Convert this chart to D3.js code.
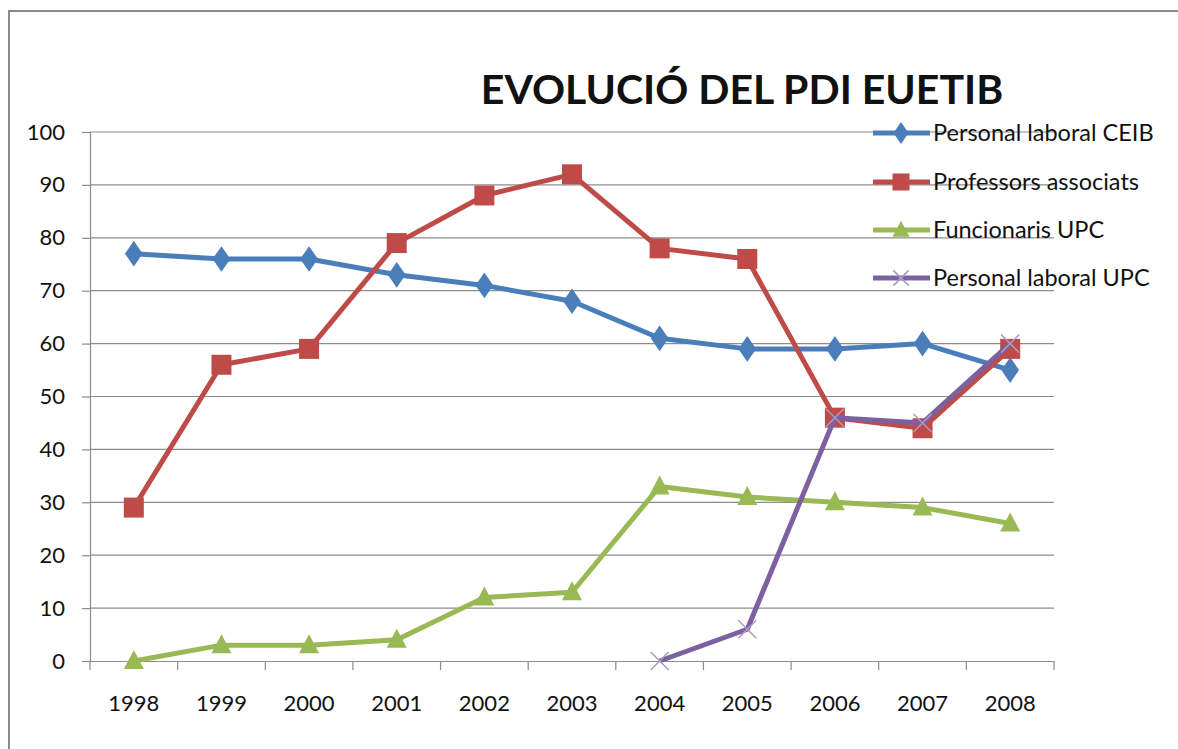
<!DOCTYPE html>
<html>
<head>
<meta charset="utf-8">
<script src="https://cdnjs.cloudflare.com/ajax/libs/d3/7.8.5/d3.min.js"></script>
<style>
  body { margin: 0; background: #fff; }
  svg { display: block; }
  text { font-family: Lato, "Open Sans", sans-serif; fill: #111; }
</style>
</head>
<body>
<svg id="chart" width="1178" height="749"></svg>
<script>
var svg = d3.select("#chart");

const years = ["1998", "1999", "2000", "2001", "2002", "2003", "2004", "2005", "2006", "2007", "2008"];
const laboralCeib = [77, 76, 76, 73, 71, 68, 61, 59, 59, 60, 55];
const professorsAssociats = [29, 56, 59, 79, 88, 92, 78, 76, 46, 44, 59];
const funcionarisUpc = [0, 3, 3, 4, 12, 13, 33, 31, 30, 29, 26];
const laboralUpc = [null, null, null, null, null, null, 0, 6, 46, 45, 60];
const yTicks = [0, 10, 20, 30, 40, 50, 60, 70, 80, 90, 100];

const series = [
    { name: "Personal laboral CEIB", values: laboralCeib, color: "#4A7EBB", marker: "diamond" },
    { name: "Professors associats", values: professorsAssociats, color: "#BE4B48", marker: "square" },
    { name: "Funcionaris UPC", values: funcionarisUpc, color: "#98B954", marker: "triangle" },
    { name: "Personal laboral UPC", values: laboralUpc, color: "#7D60A0", marker: "cross" }
];

const plotLeft = 90, plotRight = 1054, plotTop = 132, plotBottom = 661;

var x = d3.scaleBand().domain(years).range([plotLeft, plotRight]);
var y = d3.scaleLinear().domain([0, 100]).range([plotBottom, plotTop]);

// outer chart frame (only top and left edges are visible)
svg.append("path")
    .attr("d", "M9,749 L9,11 L1178,11")
    .attr("fill", "none")
    .attr("stroke", "#8a8a8a")
    .attr("stroke-width", 2);

// title
svg.append("text")
    .attr("x", 742)
    .attr("y", 104)
    .attr("text-anchor", "middle")
    .style("font-size", "41px")
    .style("font-weight", "bold")
    .text("EVOLUCIÓ DEL PDI EUETIB");

// gridlines
svg.append("g")
    .selectAll("line")
    .data(yTicks.filter(d => d > 0))
    .join("line")
    .attr("x1", plotLeft)
    .attr("x2", plotRight)
    .attr("y1", d => y(d))
    .attr("y2", d => y(d))
    .attr("stroke", "#8c8c8c")
    .attr("stroke-width", 1.2);

// y axis
var yAxis = svg.append("g")
    .attr("transform", `translate(${plotLeft},0)`)
    .call(d3.axisLeft(y).tickValues(yTicks).tickSize(8).tickPadding(17));

// x axis
var xAxis = svg.append("g")
    .attr("transform", `translate(0,${plotBottom})`)
    .call(d3.axisBottom(x).tickSize(0).tickPadding(34));

xAxis.selectAll(".boundary")
    .data(d3.range(years.length + 1))
    .join("line")
    .attr("class", "boundary")
    .attr("x1", i => plotLeft + i * x.step())
    .attr("x2", i => plotLeft + i * x.step())
    .attr("y1", 0)
    .attr("y2", 9)
    .attr("stroke", "#8c8c8c")
    .attr("stroke-width", 1.2);

[yAxis, xAxis].forEach(function(a) {
    a.select(".domain").attr("stroke", "#8c8c8c").attr("stroke-width", 1.2);
    a.selectAll(".tick line").attr("stroke", "#8c8c8c").attr("stroke-width", 1.2);
    a.selectAll("text")
        .style("font-size", "22px")
        .style("font-family", "Lato, 'Open Sans', sans-serif")
        .attr("fill", "#111");
});

function cx(i) { return x(years[i]) + x.bandwidth() / 2; }

function drawMarker(g, type, color, px, py, k) {
    k = k || 1;
    if (type === "diamond") {
        g.append("path")
            .attr("d", d3.symbol(d3.symbolDiamond, 190 * k * k)())
            .attr("transform", `translate(${px},${py}) scale(1.2,1)`)
            .attr("fill", color);
    } else if (type === "square") {
        g.append("rect")
            .attr("x", px - 10 * k).attr("y", py - 10 * k)
            .attr("width", 20 * k).attr("height", 20 * k)
            .attr("fill", color);
    } else if (type === "triangle") {
        g.append("path")
            .attr("d", `M${px},${py - 11 * k} L${px + 10 * k},${py + 8 * k} L${px - 10 * k},${py + 8 * k} Z`)
            .attr("fill", color);
    } else {
        var r = 9 * k;
        g.append("path")
            .attr("d", `M${px - r},${py - r} L${px + r},${py + r} M${px - r},${py + r} L${px + r},${py - r}`)
            .attr("stroke", "#A99BC4")
            .attr("stroke-width", 1.5);
    }
}

var line = d3.line()
    .defined(d => d != null)
    .x((d, i) => cx(i))
    .y(d => y(d));

series.forEach(function(s) {
    var g = svg.append("g");
    g.append("path")
        .datum(s.values)
        .attr("d", line)
        .attr("fill", "none")
        .attr("stroke", s.color)
        .attr("stroke-width", 5)
        .attr("stroke-linejoin", "round");
    s.values.forEach(function(v, i) {
        if (v != null) drawMarker(g, s.marker, s.color, cx(i), y(v));
    });
});

// legend
var legendY = [133, 182, 230, 278];
series.forEach(function(s, i) {
    var g = svg.append("g");
    g.append("line")
        .attr("x1", 873).attr("x2", 930)
        .attr("y1", legendY[i]).attr("y2", legendY[i])
        .attr("stroke", s.color)
        .attr("stroke-width", 5);
    drawMarker(g, s.marker, s.color, 901, legendY[i], 0.85);
    g.append("text")
        .attr("x", 933)
        .attr("y", legendY[i] + 8)
        .style("font-size", "23.5px")
        .text(s.name);
});
</script>
</body>
</html>
